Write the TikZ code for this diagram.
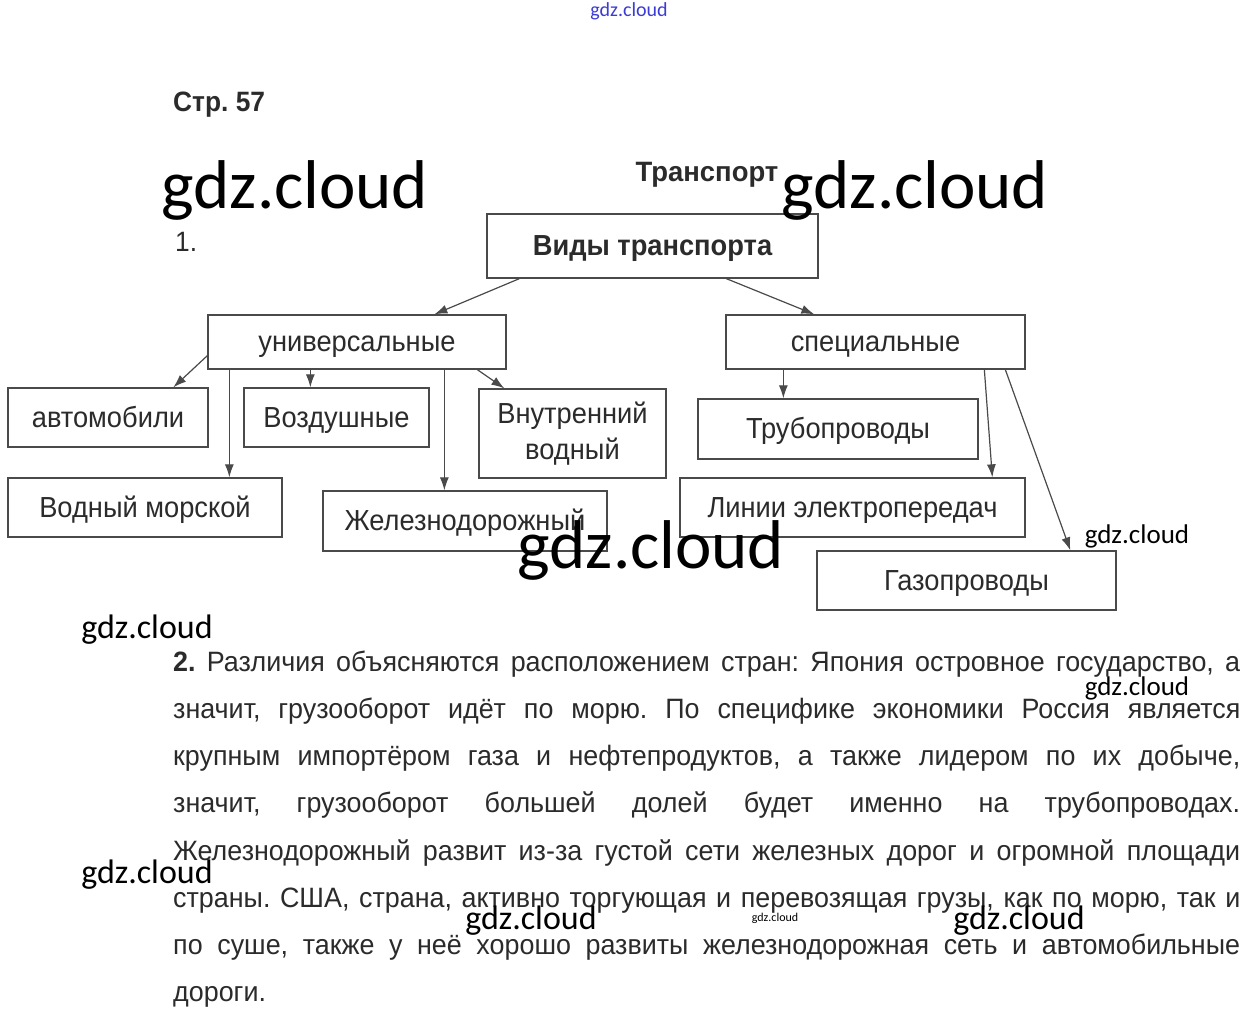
\documentclass[tikz,border=0pt]{standalone}
\usepackage{fontspec}
\setmainfont{Liberation Sans}
\newfontfamily\condfont[FakeStretch=0.94]{Liberation Sans}
\newfontfamily\parafont[FakeStretch=0.96]{Liberation Sans}
\newfontfamily\trfont[FakeStretch=0.98]{Liberation Sans}
\newfontfamily\wmfont{Carlito}
\usetikzlibrary{arrows.meta}
\definecolor{ink}{HTML}{2B2B2B}
\definecolor{frame}{HTML}{4A4A4A}
\definecolor{wmblue}{HTML}{3B3BD6}
\frenchspacing
\tikzset{
  box/.style={draw=frame, line width=1.3pt, inner sep=0pt, text=ink, align=center,
              font=\condfont\fontsize{29}{36}\selectfont},
  oneline/.style={text height=21pt, text depth=2pt},
  arr/.style={draw=frame, line width=1.2pt, -{Latex[length=13pt,width=9pt]}},
  para/.style={anchor=base west, inner sep=0pt, text=ink, font=\parafont\fontsize{28}{30}\selectfont},
  wmbig/.style={inner sep=0pt, text=black, font=\wmfont\fontsize{69}{80}\selectfont},
  wmsmall/.style={inner sep=0pt, text=black, font=\wmfont\fontsize{27}{32}\selectfont},
  wmmid/.style={inner sep=0pt, text=black, font=\wmfont\fontsize{34}{40}\selectfont},
}
\newcommand{\jline}[1]{\makebox[1067pt][s]{#1}}
\begin{document}
\begin{tikzpicture}[x=1pt,y=-1pt]
\useasboundingbox (0,0) rectangle (1258,1025);
\fill[white] (0,0) rectangle (1258,1025);

% headings
\node[anchor=base west, inner sep=0pt, text=ink, font=\condfont\bfseries\fontsize{28}{30}\selectfont] (str) at (173,111) {Стр. 57};
\node[anchor=base, inner sep=0pt, text=ink, font=\trfont\bfseries\fontsize{28}{30}\selectfont] (tr) at (707,181) {Транспорт};
\node[anchor=base west, inner sep=0pt, text=ink, font=\condfont\fontsize{28}{30}\selectfont] (one) at (175,251) {1.};

% boxes
\node[box, oneline, minimum width=331pt, minimum height=64pt, font=\condfont\bfseries\fontsize{29}{30}\selectfont] (vid) at (652.5,246) {Виды транспорта};
\node[box, oneline, minimum width=298pt, minimum height=54pt] (uni) at (357,342) {универсальные};
\node[box, oneline, minimum width=299pt, minimum height=54pt] (spec) at (875.5,342) {специальные};
\node[box, oneline, minimum width=200pt, minimum height=59pt] (avto) at (108,417.5) {автомобили};
\node[box, oneline, minimum width=185pt, minimum height=59pt] (vozd) at (336.5,417.5) {Воздушные};
\node[box, minimum width=187pt, minimum height=89pt] (vnutr) at (572.5,433.5) {Внутренний\\водный};
\node[box, oneline, minimum width=274pt, minimum height=59pt] (vodmor) at (145,507.5) {Водный морской};
\node[box, oneline, minimum width=284pt, minimum height=60pt] (zhel) at (465,521) {Железнодорожный};
\node[box, oneline, minimum width=280pt, minimum height=60pt] (trub) at (838,429) {Трубопроводы};
\node[box, oneline, minimum width=345pt, minimum height=59pt] (lin) at (852.5,507.5) {Линии электропередач};
\node[box, oneline, minimum width=299pt, minimum height=59pt] (gaz) at (966.5,580.5) {Газопроводы};

% connectors
\draw[arr] ([xshift=33pt]vid.south west) -- ([xshift=227pt]uni.north west);
\draw[arr] ([xshift=240pt]vid.south west) -- ([xshift=89pt]spec.north west);
\draw[arr] ([yshift=14pt]uni.south west) -- ([xshift=166pt]avto.north west);
\draw[arr] ([xshift=22pt]uni.south west) -- ([xshift=222pt]vodmor.north west);
\draw[arr] ([xshift=103pt]uni.south west) -- ([xshift=67pt]vozd.north west);
\draw[arr] ([xshift=237pt]uni.south west) -- ([xshift=122pt]zhel.north west);
\draw[arr] ([xshift=270pt]uni.south west) -- ([xshift=26pt]vnutr.north west);
\draw[arr] ([xshift=58pt]spec.south west) -- ([xshift=86pt]trub.north west);
\draw[arr] ([xshift=259pt]spec.south west) -- ([xshift=313pt]lin.north west);
\draw[arr] ([xshift=280pt]spec.south west) -- ([xshift=254pt]gaz.north west);

% paragraph
\node[para] (p1) at (173,671) {\jline{\textbf{2.} Различия объясняются расположением стран: Япония островное государство, а}};
\node[para] (p2) at (173,718) {\jline{значит, грузооборот идёт по морю. По специфике экономики Россия является}};
\node[para] (p3) at (173,765) {\jline{крупным импортёром газа и нефтепродуктов, а также лидером по их добыче,}};
\node[para] (p4) at (173,812) {\jline{значит, грузооборот большей долей будет именно на трубопроводах.}};
\node[para] (p5) at (173,860) {\jline{Железнодорожный развит из-за густой сети железных дорог и огромной площади}};
\node[para] (p6) at (173,907) {\jline{страны. США, страна, активно торгующая и перевозящая грузы, как по морю, так и}};
\node[para] (p7) at (173,954) {\jline{по суше, также у неё хорошо развиты железнодорожная сеть и автомобильные}};
\node[para] (p8) at (173,1001) {дороги.};

% watermarks
\node[inner sep=0pt, text=wmblue, font=\wmfont\fontsize{20}{24}\selectfont] (wm0) at (629,11) {gdz.cloud};
\node[wmbig] (wm1) at (295,190) {gdz.cloud};
\node[wmbig] (wm2) at (915,190) {gdz.cloud};
\node[wmbig] (wm3) at (651,550) {gdz.cloud};
\node[wmsmall] (wm4) at (1137,536) {gdz.cloud};
\node[wmsmall] (wm5) at (1137,688) {gdz.cloud};
\node[wmmid] (wm6) at (147,630) {gdz.cloud};
\node[wmmid] (wm7) at (147,875) {gdz.cloud};
\node[wmmid] (wm8) at (531,921) {gdz.cloud};
\node[wmmid] (wm9) at (1019,921) {gdz.cloud};
\node[inner sep=0pt, text=black, font=\wmfont\fontsize{12}{14}\selectfont] (wm10) at (775,918) {gdz.cloud};
\end{tikzpicture}
\end{document}
